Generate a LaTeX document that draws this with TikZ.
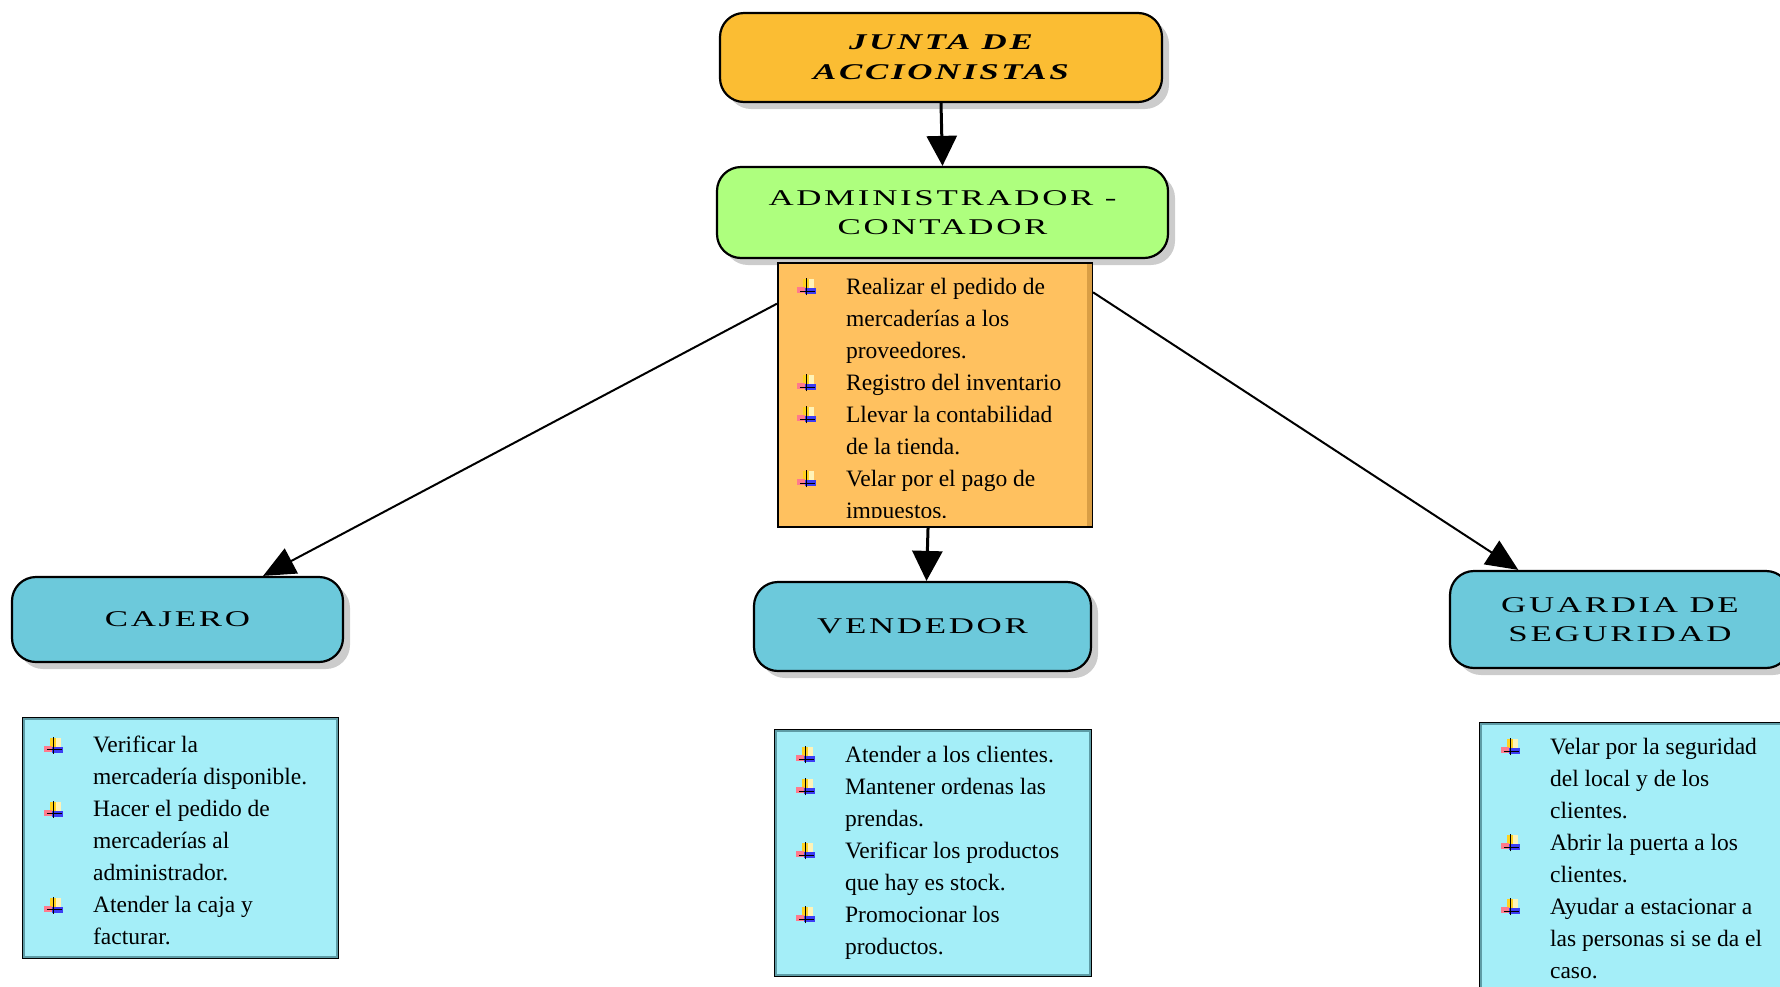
\documentclass[tikz,border=0pt]{standalone}
\usepackage{fontspec}
\setmainfont{Liberation Serif}
\newfontfamily\headfont[FakeStretch=1.55,LetterSpace=12]{Liberation Serif}
\usetikzlibrary{positioning,shadows,arrows.meta}

\definecolor{juntaorange}{HTML}{FBBD33}
\definecolor{admgreen}{HTML}{AEFF7E}
\definecolor{taskorange}{HTML}{FFC15F}
\definecolor{orangeedge}{HTML}{D99E45}
\definecolor{rolecyan}{HTML}{6CC9DB}
\definecolor{taskcyan}{HTML}{A4EEF8}
\definecolor{taskedge}{HTML}{5E9CA6}
\definecolor{bulyellow}{HTML}{FFD21F}
\definecolor{bulcream}{HTML}{FFF3B8}
\definecolor{bulpink}{HTML}{FF7A8C}
\definecolor{bulblue}{HTML}{3C3CF5}

% bullet mark made of coloured rules
\newcommand\bulmark{%
  \rlap{\hspace{6pt}\textcolor{bulyellow}{\rule[6pt]{6pt}{9pt}}}%
  \rlap{\hspace{12pt}\textcolor{bulcream}{\rule[6pt]{5pt}{9pt}}}%
  \rlap{\textcolor{bulpink}{\rule[1pt]{8pt}{6pt}}}%
  \rlap{\hspace{8pt}\textcolor{bulblue}{\rule[0pt]{11pt}{6pt}}}%
  \rlap{\hspace{8.4pt}\rule[-1pt]{1.3pt}{17pt}}%
  \rlap{\hspace{3pt}\rule[2.6pt]{15pt}{1.3pt}}}
\newcommand\bitem{\makebox[49pt][l]{\bulmark}}
\newcommand\bcont{\hspace*{49pt}}

\begin{document}
\begin{tikzpicture}[x=1pt, y=-1pt,
    rolebox/.style={draw, line width=2.2pt, rounded corners=24pt, inner sep=0pt, align=center,
      font=\headfont\fontsize{22.5}{29}\selectfont,
      drop shadow={shadow xshift=7pt, shadow yshift=-7pt, fill=black!40}},
    taskbox/.style={draw, line width=2.2pt, inner sep=0pt},
    tasktext/.style={inner sep=0pt, align=left, anchor=north west, font=\fontsize{23.5}{32}\selectfont},
    link/.style={line width=3pt, -{Triangle[length=30pt, width=30pt]}},
    slant/.style={line width=2pt, -{Triangle[length=32pt, width=28pt]}}]
    \useasboundingbox (0,0) rectangle (1780,986);

    % top of the chart
    \node[rolebox, fill=juntaorange, minimum width=442pt, minimum height=89pt,
          font=\headfont\bfseries\itshape\fontsize{22.5}{30}\selectfont] (junta) at (941,57.5) {JUNTA DE\\ACCIONISTAS};
    \node[rolebox, fill=admgreen, minimum width=451pt, minimum height=91pt] (admin) at (942.5,212.5) {ADMINISTRADOR -\\CONTADOR};

    % tasks of the administrator (last line cut by the box)
    \node[taskbox, fill=taskorange, minimum width=314pt, minimum height=264pt] (adml) at (935,395) {};
    \draw[orangeedge, line width=5pt] ([xshift=-4pt,yshift=-2pt]adml.north east) -- ([xshift=-4pt,yshift=2pt]adml.south east);
    \begin{scope}
        \clip (adml.north west) rectangle ([yshift=11pt]adml.south east);
        \node[tasktext] (admt) at ([xshift=20pt,yshift=-16pt]adml.north west)
            {\bitem Realizar el pedido de\\ \bcont mercaderías a los\\ \bcont proveedores.\\
             \bitem Registro del inventario\\
             \bitem Llevar la contabilidad\\ \bcont de la tienda.\\
             \bitem Velar por el pago de\\ \bcont impuestos.};
    \end{scope}

    % the three posts
    \node[rolebox, fill=rolecyan, minimum width=331pt, minimum height=85pt] (caj) at (177.5,619.5) {CAJERO};
    \node[rolebox, fill=rolecyan, minimum width=337pt, minimum height=89pt] (vend) at (922.5,626.5) {VENDEDOR};
    \node[rolebox, fill=rolecyan, minimum width=340pt, minimum height=97pt] (grd) at (1620,619.5) {GUARDIA DE\\SEGURIDAD};

    % task lists of the posts
    \node[taskbox, fill=taskcyan, minimum width=315pt, minimum height=240pt] (cajl) at (180.5,838) {};
    \node[taskbox, fill=taskcyan, minimum width=316pt, minimum height=246pt] (vendl) at (933,853) {};
    \node[taskbox, fill=taskcyan, minimum width=316pt, minimum height=277pt] (grdl) at (1638,861.5) {};
    \foreach \b in {cajl,vendl,grdl} {
        \draw[taskedge, line width=2pt] ([shift={(2.5pt,2.5pt)}]\b.south west) rectangle ([shift={(-2.5pt,-2.5pt)}]\b.north east);
    }

    \node[tasktext] (cajt) at ([xshift=22pt,yshift=-19pt]cajl.north west)
        {\bitem Verificar la\\ \bcont mercadería disponible.\\
         \bitem Hacer el pedido de\\ \bcont mercaderías al\\ \bcont administrador.\\
         \bitem Atender la caja y\\ \bcont facturar.};
    \node[tasktext] (vendt) at ([xshift=22pt,yshift=-17pt]vendl.north west)
        {\bitem Atender a los clientes.\\
         \bitem Mantener ordenas las\\ \bcont prendas.\\
         \bitem Verificar los productos\\ \bcont que hay es stock.\\
         \bitem Promocionar los\\ \bcont productos.};
    \node[tasktext] (grdt) at ([xshift=22pt,yshift=-16pt]grdl.north west)
        {\bitem Velar por la seguridad\\ \bcont del local y de los\\ \bcont clientes.\\
         \bitem Abrir la puerta a los\\ \bcont clientes.\\
         \bitem Ayudar a estacionar a\\ \bcont las personas si se da el\\ \bcont caso.};

    % arrows
    \draw[link] (junta.south) -- (admin.north);
    \draw[link] (adml.267) -- (vend.85);
    \draw[slant] (adml.150) -- (caj.27);
    \draw[slant] (adml.33) -- (grd.154);
\end{tikzpicture}
\end{document}
